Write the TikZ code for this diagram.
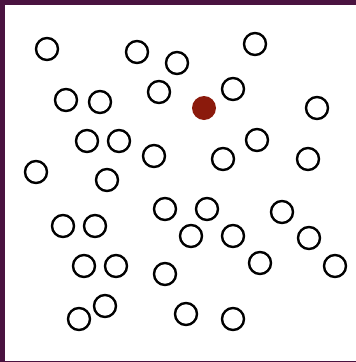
\documentclass[tikz,border=0pt]{standalone}
\usepackage{tikz}
\definecolor{frame}{HTML}{4A1340}
\definecolor{hotred}{HTML}{8B1A0C}

\begin{document}
\begin{tikzpicture}[
    x=1pt, y=-1pt,
    dot/.style={circle, draw=black, line width=2.4pt, minimum size=22pt, inner sep=0pt},
    hot/.style={circle, fill=hotred, minimum size=24pt, inner sep=0pt}
  ]
    \useasboundingbox (0,0) rectangle (356,362);
    % frame
    \fill[frame] (0,0) rectangle (5,362);
    \fill[frame] (0,0) rectangle (356,5);
    \fill[frame] (0,360.5) rectangle (356,362);
    % empty circles
    \foreach \px/\py [count=\i] in {47/49, 137/52, 177/63, 255/44, 66/100, 100/102,
        159/92, 233/89, 317/108, 87/141, 119/141, 154/156, 223/159, 257/140,
        308/159, 36/172, 107/180, 165/209, 207/209, 191/236, 233/236, 282/212,
        309/238, 63/226, 95/226, 84/266, 116/266, 165/274, 260/263, 335/266,
        105/306, 79/319, 186/314, 233/319}
      \node[dot] (c\i) at (\px,\py) {};
    % filled circle
    \node[hot] (h) at (204,108) {};
  \end{tikzpicture}
\end{document}
